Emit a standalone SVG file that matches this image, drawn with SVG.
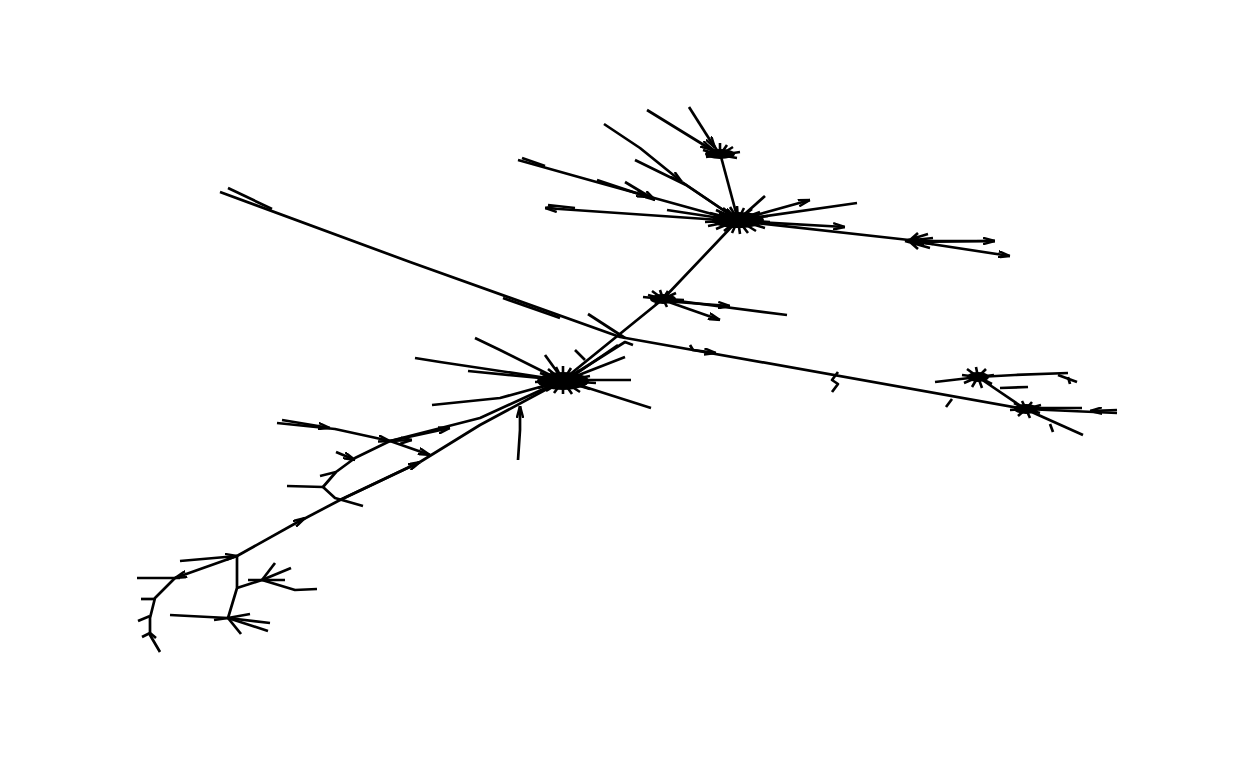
<svg xmlns="http://www.w3.org/2000/svg" width="1248" height="768" viewBox="0 0 1248 768">
<defs>
<style>
.e{stroke:#000;stroke-width:2.7;fill:none;stroke-linecap:butt;stroke-linejoin:round}
.s{stroke:#000;stroke-width:2.6;fill:none}
.c{fill:#000}
</style>
<marker id="a" viewBox="0 0 12 8" refX="12" refY="4" markerWidth="12" markerHeight="8" markerUnits="userSpaceOnUse" orient="auto">
<path d="M0,0.8 L12,4 L0,7.2" fill="none" stroke="#000" stroke-width="2.4"/>
</marker>
</defs>
<rect width="1248" height="768" fill="#fff"/>
<g id="connectors">
<path class="e" d="M220,192 L410,262 L620,337 L1025,409"/>
<path class="e" d="M228,188 L272,209"/>
<path class="e" d="M503,298 L560,318"/>
<path class="e" marker-end="url(#a)" d="M690,345 L693,350 L716,353"/>
<path class="e" d="M838,372 L832,380 L838,384 L832,392"/>
<path class="e" d="M952,399 L946,407"/>
<path class="e" d="M738,220 L720,153"/>
<path class="e" marker-end="url(#a)" d="M647,110 L712,150"/>
<path class="e" marker-end="url(#a)" d="M689,107 L715,148"/>
<path class="e" marker-end="url(#a)" d="M604,124 L640,148 L682,182"/>
<path class="e" d="M682,182 L735,218"/>
<path class="e" marker-end="url(#a)" d="M635,160 L686,185 L735,218"/>
<path class="e" marker-end="url(#a)" d="M518,160 L600,183 L730,219"/>
<path class="e" marker-end="url(#a)" d="M597,180 L648,197"/>
<path class="e" marker-end="url(#a)" d="M625,182 L655,200"/>
<path class="e" d="M522,158 L545,166"/>
<path class="e" marker-end="url(#a)" d="M735,221 L545,208"/>
<path class="e" d="M548,205 L575,208"/>
<path class="e" d="M667,210 L733,220"/>
<path class="e" d="M738,220 L765,196"/>
<path class="e" marker-end="url(#a)" d="M738,220 L810,200"/>
<path class="e" d="M738,220 L857,203"/>
<path class="e" marker-end="url(#a)" d="M738,221 L845,227"/>
<path class="e" d="M738,221 L918,241"/>
<path class="e" marker-end="url(#a)" d="M918,241 L995,241"/>
<path class="e" marker-end="url(#a)" d="M918,242 L1010,256"/>
<path class="e" marker-end="url(#a)" d="M995,241 L912,242"/>
<path class="e" d="M738,220 L663,299 L563,380"/>
<path class="e" d="M663,299 L787,315"/>
<path class="e" marker-end="url(#a)" d="M663,300 L720,320"/>
<path class="e" marker-end="url(#a)" d="M663,301 L730,306"/>
<path class="e" d="M643,297 L663,299"/>
<path class="e" d="M588,314 L625,338"/>
<path class="e" d="M568,378 L625,342 L633,345"/>
<path class="e" d="M570,378 L618,345"/>
<path class="e" marker-end="url(#a)" d="M415,358 L440,362 L560,380"/>
<path class="e" marker-end="url(#a)" d="M475,338 L500,350 L560,380"/>
<path class="e" d="M468,371 L540,378"/>
<path class="e" marker-end="url(#a)" d="M432,405 L500,398 L558,382"/>
<path class="e" d="M563,380 L631,380"/>
<path class="e" d="M563,380 L651,408"/>
<path class="e" d="M566,380 L625,357"/>
<path class="e" d="M545,355 L558,373"/>
<path class="e" d="M575,350 L585,360"/>
<path class="e" marker-end="url(#a)" d="M518,460 L520,430 L520,406"/>
<path class="e" d="M563,380 L480,418 L390,441"/>
<path class="e" d="M560,382 L480,425 L420,462"/>
<path class="e" marker-end="url(#a)" d="M340,500 L420,462"/>
<path class="e" d="M420,462 L340,500"/>
<path class="e" marker-end="url(#a)" d="M237,556 L305,518"/>
<path class="e" d="M300,521 L340,500"/>
<path class="e" marker-end="url(#a)" d="M277,423 L335,429 L390,441"/>
<path class="e" marker-end="url(#a)" d="M282,420 L330,428"/>
<path class="e" marker-end="url(#a)" d="M390,441 L450,428"/>
<path class="e" marker-end="url(#a)" d="M390,441 L430,455"/>
<path class="e" marker-end="url(#a)" d="M390,441 L412,440"/>
<path class="e" d="M390,441 L355,458 L336,472 L323,487"/>
<path class="e" marker-end="url(#a)" d="M336,452 L355,460"/>
<path class="e" d="M320,476 L336,472"/>
<path class="e" d="M287,486 L323,487"/>
<path class="e" d="M323,487 L335,498 L363,506"/>
<path class="e" marker-end="url(#a)" d="M180,561 L237,556"/>
<path class="e" marker-end="url(#a)" d="M237,556 L175,578"/>
<path class="e" d="M137,578 L180,578"/>
<path class="e" d="M175,578 L155,598 L150,618 L150,635 L160,652"/>
<path class="e" d="M141,599 L155,599"/>
<path class="e" d="M138,621 L150,616"/>
<path class="e" d="M142,637 L150,633 L156,638"/>
<path class="e" d="M237,556 L237,588 L228,618"/>
<path class="e" d="M170,615 L228,618"/>
<path class="e" d="M228,618 L270,623"/>
<path class="e" d="M228,618 L268,631"/>
<path class="e" d="M228,618 L241,634"/>
<path class="e" d="M228,618 L250,614"/>
<path class="e" d="M214,620 L228,618"/>
<path class="e" d="M237,588 L262,580"/>
<path class="e" d="M262,580 L291,568"/>
<path class="e" d="M262,580 L275,563"/>
<path class="e" d="M262,580 L295,590 L317,589"/>
<path class="e" d="M248,580 L285,580"/>
<path class="e" d="M935,382 L978,377"/>
<path class="e" d="M978,377 L1015,375 L1068,373"/>
<path class="e" d="M1058,375 L1077,382"/>
<path class="e" d="M1068,377 L1070,384"/>
<path class="e" d="M978,377 L1025,409"/>
<path class="e" d="M1000,388 L1028,387"/>
<path class="e" d="M1025,409 L1117,413"/>
<path class="e" marker-end="url(#a)" d="M1117,410 L1090,411"/>
<path class="e" d="M1025,409 L1083,435"/>
<path class="e" d="M1050,424 L1053,432"/>
<path class="e" d="M1025,408 L1082,408"/>
</g>
<g id="H1">
<ellipse class="c" cx="738" cy="220" rx="26" ry="8"/>
<path class="s" d="M738,220 L705,222 M738,220 L710,213 M738,220 L716,210 M738,220 L723,208 M738,220 L730,207 M738,220 L737,206 M738,220 L744,208 M738,220 L752,209 M738,220 L760,212 M738,220 L768,216 M738,220 L770,222 M738,220 L765,228 M738,220 L756,231 M738,220 L748,233 M738,220 L740,234 M738,220 L732,233 M738,220 L724,231 M738,220 L716,229 M738,220 L708,226"/>
</g>
<g id="H2">
<ellipse class="c" cx="720" cy="154" rx="15" ry="5"/>
<path class="s" d="M720,155 L703,150 M720,155 L707,145 M720,155 L713,144 M720,155 L720,143 M720,155 L727,145 M720,155 L733,147 M720,155 L740,152 M720,155 L737,158 M720,155 L706,157"/>
</g>
<g id="H3">
<ellipse class="c" cx="663" cy="299" rx="13" ry="5"/>
<path class="s" d="M663,299 L648,295 M663,299 L652,291 M663,299 L660,290 M663,299 L668,291 M663,299 L676,293 M663,299 L684,300 M663,299 L667,307 M663,299 L655,304"/>
</g>
<g id="H4">
<ellipse class="c" cx="563" cy="381" rx="26" ry="9"/>
<path class="s" d="M563,381 L535,382 M563,381 L540,373 M563,381 L548,369 M563,381 L556,367 M563,381 L563,366 M563,381 L571,368 M563,381 L580,370 M563,381 L590,376 M563,381 L596,383 M563,381 L590,389 M563,381 L580,392 M563,381 L572,394 M563,381 L563,394 M563,381 L554,393 M563,381 L546,391 M563,381 L538,388"/>
</g>
<g id="H5">
<ellipse class="c" cx="978" cy="377" rx="11" ry="5"/>
<path class="s" d="M978,377 L962,375 M978,377 L967,369 M978,377 L976,367 M978,377 L986,369 M978,377 L994,375 M978,377 L992,384 M978,377 L982,388 M978,377 L972,387 M978,377 L964,383"/>
</g>
<g id="H6">
<ellipse class="c" cx="1026" cy="409" rx="12" ry="5"/>
<path class="s" d="M1026,409 L1010,410 M1026,409 L1014,403 M1026,409 L1022,401 M1026,409 L1032,402 M1026,409 L1041,405 M1026,409 L1040,413 M1026,409 L1030,418 M1026,409 L1018,416"/>
</g>
<g id="H7">
<path class="s" d="M905,241 L928,234 M905,241 L930,248 M905,241 L933,238 M905,241 L933,244 M910,240 L918,233 M910,242 L918,249"/>
</g>
</svg>
